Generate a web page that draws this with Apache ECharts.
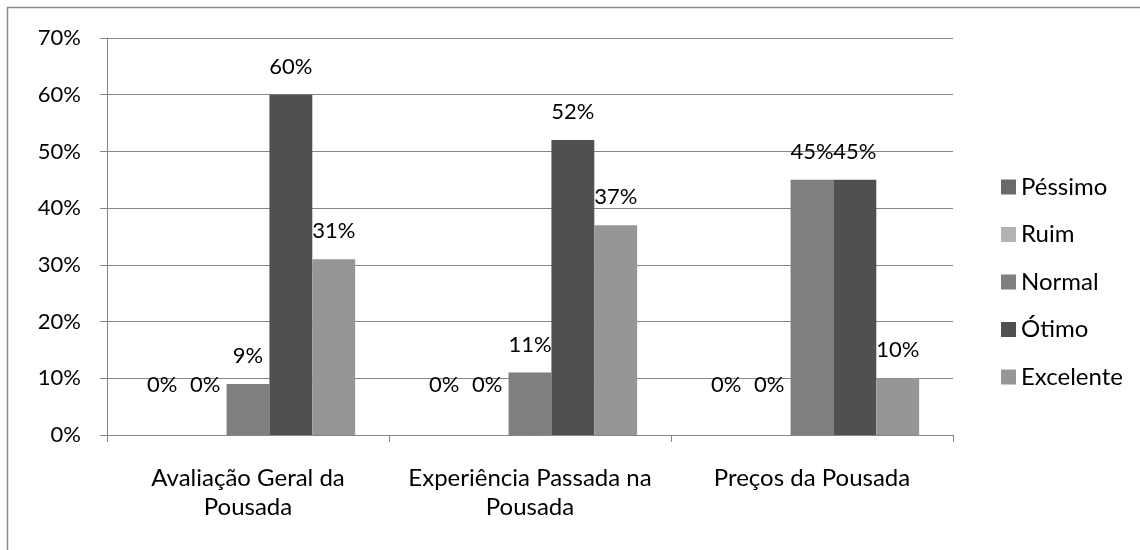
<!DOCTYPE html>
<html>
<head>
<meta charset="utf-8">
<script src="https://cdn.jsdelivr.net/npm/echarts@6/dist/echarts.min.js"></script>
<style>
  html, body { margin: 0; padding: 0; background: #fff; }
  #chart { width: 1140px; height: 550px; }
</style>
</head>
<body>
<div id="chart"></div>
<script>
// categorias e valores (%)
const categories = ['Avaliação Geral da\nPousada', 'Experiência Passada na\nPousada', 'Preços da Pousada'];
const seriesNames = ['Péssimo', 'Ruim', 'Normal', 'Ótimo', 'Excelente'];
const pessimo = [0, 0, 0];
const ruim = [0, 0, 0];
const normal = [9, 11, 45];
const otimo = [60, 52, 45];
const excelente = [31, 37, 10];
const colors = ['#6a6a6a', '#b3b3b3', '#7f7f7f', '#505050', '#969696'];
const yTicks = [0, 10, 20, 30, 40, 50, 60, 70];

const font = 'Lato, "Open Sans", sans-serif';
const allValues = [pessimo, ruim, normal, otimo, excelente];

const chart = echarts.init(document.getElementById('chart'));

const series = seriesNames.map((name, i) => ({
  name: name,
  type: 'bar',
  barGap: '0%',
  barCategoryGap: '24%',
  itemStyle: { color: colors[i] },
  label: {
    show: true,
    position: 'top',
    distance: 17,
    formatter: '{c}%',
    color: '#000',
    fontSize: 22,
    fontFamily: font
  },
  // rótulos de 0% ficam mais acima, como no original
  data: allValues[i].map(v => v === 0 ? { value: v, label: { distance: 39 } } : v)
}));

chart.setOption({
  animation: false,
  color: colors,
  graphic: [{
    type: 'rect',
    shape: { x: 7.5, y: 7.5, width: 1300, height: 700 },
    style: { fill: 'none', stroke: '#8a8a8a', lineWidth: 1.5 },
    silent: true
  }],
  grid: { left: 107, top: 38, right: 187, bottom: 115 },
  legend: {
    orient: 'vertical',
    left: 996,
    top: 170,
    itemWidth: 15,
    itemHeight: 15,
    itemGap: 23.5,
    icon: 'rect',
    textStyle: { fontSize: 24, color: '#000', fontFamily: font, lineHeight: 24 },
    data: seriesNames
  },
  xAxis: {
    type: 'category',
    data: categories,
    axisLine: { lineStyle: { color: '#868686' } },
    axisTick: { show: true, length: 7, lineStyle: { color: '#868686' } },
    axisLabel: { color: '#000', fontSize: 24, fontFamily: font, lineHeight: 29, margin: 29, interval: 0 }
  },
  yAxis: {
    type: 'value',
    min: yTicks[0],
    max: yTicks[yTicks.length - 1],
    interval: 10,
    axisLine: { show: true, lineStyle: { color: '#868686' } },
    axisTick: { show: true, length: 7, lineStyle: { color: '#868686' } },
    splitLine: { lineStyle: { color: '#868686' } },
    axisLabel: { formatter: '{value}%', color: '#000', fontSize: 22, fontFamily: font, margin: 26 }
  },
  series: series
});
</script>
</body>
</html>
